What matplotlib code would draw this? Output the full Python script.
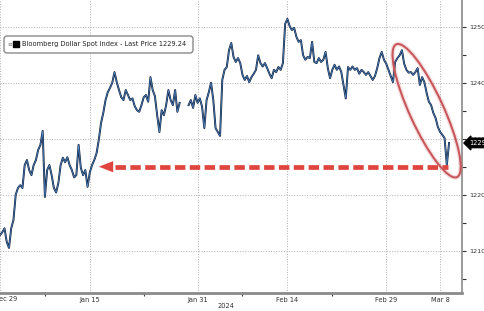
import numpy as np
import matplotlib
matplotlib.use('Agg')
import matplotlib.pyplot as plt
from matplotlib.patches import Ellipse, Polygon, FancyBboxPatch, Rectangle
from matplotlib.transforms import IdentityTransform

# Bloomberg Dollar Spot Index, one reading every 6 hours (business days from Dec 29 2023)
start = '2023-12-29'
holidays = ['2024-01-01']
step = 0.25
nan = np.nan
price = [
    1212.8, 1213.3, 1214.0, 1211.6, 1210.5, 1214.0, 1215.5, 1220.0, 1221.2, 1221.7,
    1221.2, 1225.3, 1226.2, 1224.4, 1223.5, 1225.3, 1226.2, 1228.0, 1228.9, 1231.4,
    1219.6, 1224.4, 1225.3, 1223.5, 1221.2, 1220.4, 1222.1, 1225.3, 1226.6, 1225.8,
    1226.7, 1225.3, 1224.4, 1223.1, 1223.5, 1228.9, 1224.8, 1223.5, 1224.4, 1221.4,
    1224.0, 1225.3, 1226.2, 1227.4, 1229.8, 1232.8, 1234.6, 1236.9, 1238.3, 1239.1,
    1240.0, 1241.9, 1240.1, 1238.7, 1237.4, 1236.9, 1238.7, 1237.8, 1236.9, 1237.2,
    1235.8, 1235.1, 1234.8, 1236.0, 1237.4, 1237.8, 1236.6, 1241.0, 1238.7, 1237.6,
    1234.2, 1231.2, 1235.1, 1234.2, 1236.0, 1238.7, 1236.9, 1236.0, 1238.7, 1234.8,
    1236.4, nan, nan, nan, 1236.0, 1236.9, 1235.5, 1237.8, 1236.4, 1237.2,
    1235.7, 1231.9, 1236.9, 1238.3, 1240.0, 1236.9, 1231.9, 1231.2, 1230.5, 1240.5,
    1242.3, 1242.8, 1245.8, 1247.1, 1244.6, 1243.7, 1244.4, 1243.5, 1241.4, 1240.5,
    1241.2, 1240.1, 1241.0, 1241.6, 1242.3, 1244.9, 1243.5, 1242.9, 1243.5, 1242.6,
    1241.6, 1240.8, 1242.3, 1241.9, 1242.8, 1242.3, 1243.5, 1250.5, 1251.4, 1250.1,
    1249.4, 1249.8, 1248.2, 1247.3, 1247.6, 1244.9, 1244.1, 1244.6, 1244.4, 1247.3,
    1243.7, 1243.5, 1244.4, 1243.7, 1244.1, 1245.5, 1242.6, 1240.8, 1242.3, 1243.2,
    1242.3, 1242.9, 1241.9, 1239.6, 1237.2, 1242.8, 1242.3, 1242.9, 1242.3, 1242.6,
    1241.6, 1242.3, 1241.9, 1241.4, 1241.9, 1241.2, 1240.5, 1241.2, 1242.6, 1244.4,
    1245.5, 1244.1, 1243.4, 1242.3, 1241.2, 1240.1, 1243.7, 1244.4, 1244.9, 1245.8,
    1243.4, 1242.3, 1241.8, 1241.9, 1241.4, 1241.9, 1242.6, 1239.6, 1241.0, 1240.1,
    1238.2, 1236.6, 1236.0, 1234.6, 1233.7, 1232.1, 1231.2, 1230.7, 1230.1, 1225.3,
    1229.24,
]
last_price = 1229.24
series_name = 'Bloomberg Dollar Spot Index - Last Price'

tick_dates = ['2023-12-29', '2024-01-15', '2024-01-31', '2024-02-14', '2024-02-29', '2024-03-08']
tick_labels = ['Dec 29', 'Jan 15', 'Jan 31', 'Feb 14', 'Feb 29', 'Mar 8']
minor_dates = ['2024-01-08', '2024-01-23', '2024-02-07', '2024-02-21']
y_ticks = [1210, 1220, 1230, 1240, 1250]
y_minor = [1205, 1215, 1225, 1235, 1245]

# annotation: back to the mid-January level
arrow_level = 1225.0
arrow_from = '2024-03-08'
arrow_to = '2024-01-15'


def bday(dates):
    d = np.array(dates, dtype='datetime64[D]')
    return np.busday_count(np.datetime64(start), d, holidays=holidays)


fig = plt.figure(figsize=(4.85, 3.11), dpi=100)
ax = fig.add_axes([0, 18 / 311, 462 / 485, 293 / 311])

t = np.arange(len(price)) * step
ax.plot(t, price, color='#12233f', lw=1.4, zorder=3)
ax.plot(t, price, color='#5590d2', lw=0.45, zorder=4)

ax.set_xlim(0.11, 51.44)
ax.set_ylim(1202.45, 1254.77)

# axes look
for s in ['left', 'top']:
    ax.spines[s].set_visible(False)
ax.spines['right'].set_color('#8a8a8a')
ax.spines['right'].set_linewidth(1.2)
ax.spines['bottom'].set_color('#8a8a8a')
ax.spines['bottom'].set_linewidth(2.0)

major_x = bday(tick_dates)
ax.set_xticks(major_x)
ax.set_xticklabels([''] + tick_labels[1:])
ax.set_xticks(bday(minor_dates), minor=True)
ax.tick_params(axis='x', which='major', length=0, pad=3, labelsize=4.8, colors='#333333')
ax.tick_params(axis='x', which='minor', length=2, width=0.8, color='#333333')
ax.annotate(tick_labels[0], xy=(major_x[0], 0), xycoords=('data', 'axes fraction'),
            xytext=(-6, -3), textcoords='offset pixels', ha='left', va='top',
            fontsize=4.8, color='#333333', annotation_clip=False)
fig.text(226 / 485, 1 - 306 / 311, '2024', ha='center', va='center', fontsize=4.8, color='#333333')

ax.yaxis.tick_right()
ax.set_yticks(y_ticks)
ax.set_yticks(y_minor, minor=True)
ax.tick_params(axis='y', which='both', length=3, width=0.8, pad=2, labelsize=4.6,
               colors='#333333')

ax.grid(True, which='major', ls=':', lw=0.7, color='#b0b0b0')

# legend box
fig.patches.append(FancyBboxPatch((4, 258), 189, 17, boxstyle='round,pad=0,rounding_size=3',
                                  fc='white', ec='#8a8a8a', lw=1.0, transform=IdentityTransform(),
                                  figure=fig))
fig.patches.append(Rectangle((13, 264), 6, 6, fc='black', ec='black', transform=IdentityTransform(),
                             figure=fig))
fig.text(7 / 485, 1 - 44 / 311, '\u2261', fontsize=4, color='#777777', va='center')
fig.text(22 / 485, 1 - 44 / 311, f'{series_name} {last_price:.2f}', fontsize=4.8,
         color='#222222', va='center')

# last price tag
ax.annotate(f'{last_price:.2f}', xy=(1, last_price), xycoords=('axes fraction', 'data'),
            xytext=(7, 0), textcoords='offset pixels', ha='left', va='center',
            color='white', fontsize=4.8,
            bbox=dict(boxstyle='larrow,pad=0.25', fc='black', ec='black'),
            annotation_clip=False, zorder=6)

# red dashed arrow
plt.rcParams['lines.scale_dashes'] = False
x_tip = bday([arrow_to])[0] + 1.0
x_end = bday([arrow_from])[0] + 0.85
ax.plot([x_tip + 1.75, x_end], [arrow_level, arrow_level], color='#e0443f', lw=3.4,
        dashes=(7.5, 3.2), dash_capstyle='butt', zorder=5)
ax.add_patch(Polygon([(x_tip, arrow_level), (x_tip + 1.6, arrow_level + 1.0),
                      (x_tip + 1.6, arrow_level - 1.0)], closed=True, fc='#e0443f',
                     ec='none', zorder=5))

# red ellipse around the recent slide
cx, cy = ax.transData.transform((47.5, 1235.0))
for lw, a in [(3.5, 0.18), (1.5, 1.0)]:
    ax.add_patch(Ellipse((cx, cy), width=146, height=34, angle=-65.4, fill=False,
                         ec='#c8585c', lw=lw, alpha=a, transform=IdentityTransform(),
                         clip_on=False, zorder=6))

fig.savefig('out.png', dpi=100)
